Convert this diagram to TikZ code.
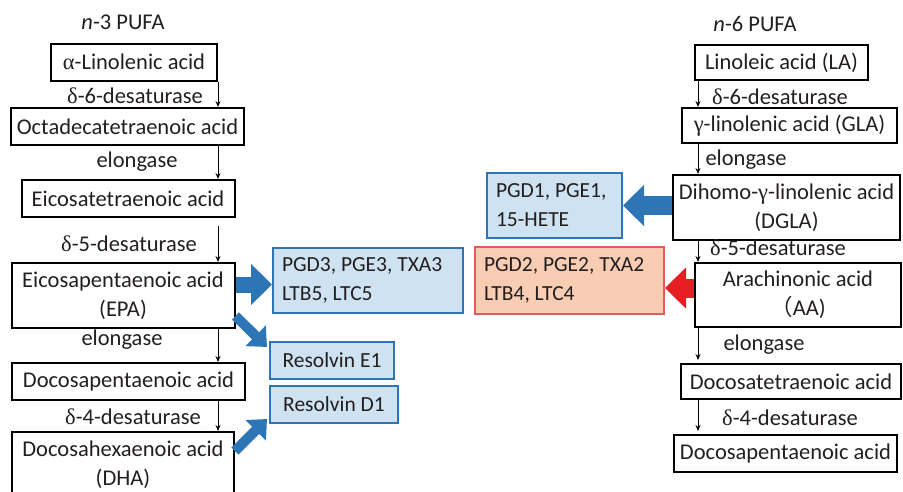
\documentclass[tikz,border=0pt]{standalone}
\usepackage{fontspec}
\setmainfont{Carlito}
\newfontfamily\grk{Liberation Serif}
\newfontfamily\cjk{Noto Sans CJK JP}
\usepackage{tikz}
\usetikzlibrary{arrows.meta,positioning}
\usepackage{xcolor}
\definecolor{pufablue}{RGB}{46,117,182}
\definecolor{lipidblue}{RGB}{207,226,242}
\definecolor{pufared}{RGB}{230,30,36}
\definecolor{lipidred}{RGB}{226,92,90}
\definecolor{lipidpink}{RGB}{249,204,180}
\definecolor{ink}{RGB}{35,31,32}
\newcommand{\galpha}{{\grk α}}
\newcommand{\ggamma}{{\grk γ}}
\newcommand{\gdelta}{{\grk δ}}

\begin{document}
\begin{tikzpicture}[x=1pt,y=-1pt,font=\fontsize{22.5}{29}\selectfont,text=ink,
	acid/.style={draw,line width=2pt,inner sep=0pt,align=center,minimum height=37pt},
	lipid/.style={draw=pufablue,fill=lipidblue,line width=2pt,inner xsep=9pt,inner ysep=0pt,
		align=flush left,font=\fontsize{21.5}{29}\selectfont},
	enz/.style={inner sep=0pt},
	conv/.style={-{Stealth[length=6pt,width=5pt]},line width=0.9pt},
	fat/.style={pufablue,line width=16pt,-{Triangle[length=21pt,width=40pt]}},
	slim/.style={pufablue,line width=10pt,-{Triangle[length=16pt,width=28pt]}}]
	\useasboundingbox (0,0) rectangle (903,491);

	% n-3 side
	\node[enz] (n3) at (123,22) {\textit{n}-3 PUFA};
	\begin{scope}[every node/.style={acid}]
		\node[minimum width=166pt] (ala) at (134,62) {\galpha-Linolenic acid};
		\node[minimum width=233pt] (oda) at (127.5,126.5) {Octadecatetraenoic acid};
		\node[minimum width=213pt] (eta) at (128,198.5) {Eicosatetraenoic acid};
		\node[minimum width=223pt,minimum height=65pt] (epa) at (123,295.5) {Eicosapentaenoic acid\\(EPA)};
		\node[minimum width=233pt] (dpa) at (128.5,381.5) {Docosapentaenoic acid};
		\node[minimum width=222pt,minimum height=66pt] (dha) at (123,465) {Docosahexaenoic acid\\(DHA)};
	\end{scope}
	\node[enz] (d6a) at (135,96) {\gdelta-6-desaturase};
	\node[enz] (ela) at (137,162) {elongase};
	\node[enz] (d5a) at (129,244) {\gdelta-5-desaturase};
	\node[enz] (elb) at (122,340) {elongase};
	\node[enz] (d4a) at (133,417) {\gdelta-4-desaturase};
	\draw[conv] (ala.south east) -- (ala.south east |- oda.north);
	\draw[conv] (oda.south -| ala.east) -- (eta.north -| ala.east);
	\draw[conv] ([yshift=-8pt]eta.south -| ala.east) -- (epa.north -| ala.east);
	\draw[conv] (epa.south -| ala.east) -- (dpa.north -| ala.east);
	\draw[conv] (dpa.south -| ala.east) -- (dha.north -| ala.east);

	% n-6 side
	\node[enz] (n6) at (755,24) {\textit{n}-6 PUFA};
	\begin{scope}[every node/.style={acid,minimum height=35pt}]
		\node[minimum width=173pt] (la) at (781.5,62.5) {Linoleic acid (LA)};
		\node[minimum width=215pt] (gla) at (789.5,125.5) {\ggamma-linolenic acid (GLA)};
		\node[minimum width=227pt,minimum height=65pt] (dgla) at (786.5,207.5) {Dihomo-\ggamma-linolenic acid\\(DGLA)};
		\node[minimum width=206pt,minimum height=64pt] (aa) at (798,295) {Arachinonic acid\\{\cjk （}AA)};
		\node[minimum width=220pt] (dta) at (791,381.5) {Docosatetraenoic acid};
		\node[minimum width=223pt,minimum height=37pt] (dpb) at (785.5,453.5) {Docosapentaenoic acid};
	\end{scope}
	\node[enz] (d6b) at (780,97) {\gdelta-6-desaturase};
	\node[enz] (elc) at (746,160) {elongase};
	\node[enz] (d5b) at (778,248) {\gdelta-5-desaturase};
	\node[enz] (eld) at (764,345) {elongase};
	\node[enz] (d4b) at (790,418) {\gdelta-4-desaturase};
	\coordinate (rx) at (698,0);
	\draw[conv] (la.south -| rx) -- (gla.north -| rx);
	\draw[conv] (gla.south -| rx) -- (dgla.north -| rx);
	\draw[conv] (dgla.south -| rx) -- (aa.north -| rx);
	\draw[conv] (aa.south -| rx) -- ([yshift=3pt]dta.north -| rx);
	\draw[conv] (dta.south -| rx) -- ([yshift=3pt]dpb.north -| rx);

	% mediators
	\node[lipid,text width=172pt,minimum height=65pt] (pg3) at (368,280.5) {PGD3, PGE3, TXA3\\LTB5, LTC5};
	\node[lipid,align=center,minimum width=124pt,minimum height=37pt] (rve) at (332,360.5) {Resolvin E1};
	\node[lipid,align=center,minimum width=128pt,minimum height=37pt] (rvd) at (334,404.5) {Resolvin D1};
	\node[lipid,text width=117pt,minimum height=65pt] (pg1) at (554.5,205.5) {PGD1, PGE1,\\15-HETE};
	\node[lipid,draw=lipidred,fill=lipidpink,text width=171pt,minimum height=67pt] (pg2) at (569.5,280.5) {PGD2, PGE2, TXA2\\LTB4, LTC4};

	\draw[fat] ([yshift=-4pt]epa.east |- pg3.west) -- ([yshift=-4pt]pg3.west);
	\draw[slim] ([yshift=13pt]epa.south east) -- ([shift={(-2pt,-6pt)}]rve.north west);
	\draw[slim] ([yshift=14pt]dha.east) -- ([shift={(-2pt,5pt)}]rvd.south west);
	\draw[fat,line width=19pt] (dgla.west |- pg1.east) -- (pg1.east);
	\draw[fat,pufared,line width=19pt] ([yshift=7pt]aa.west) -- ([yshift=7pt]aa.west -| pg2.east);
\end{tikzpicture}
\end{document}
